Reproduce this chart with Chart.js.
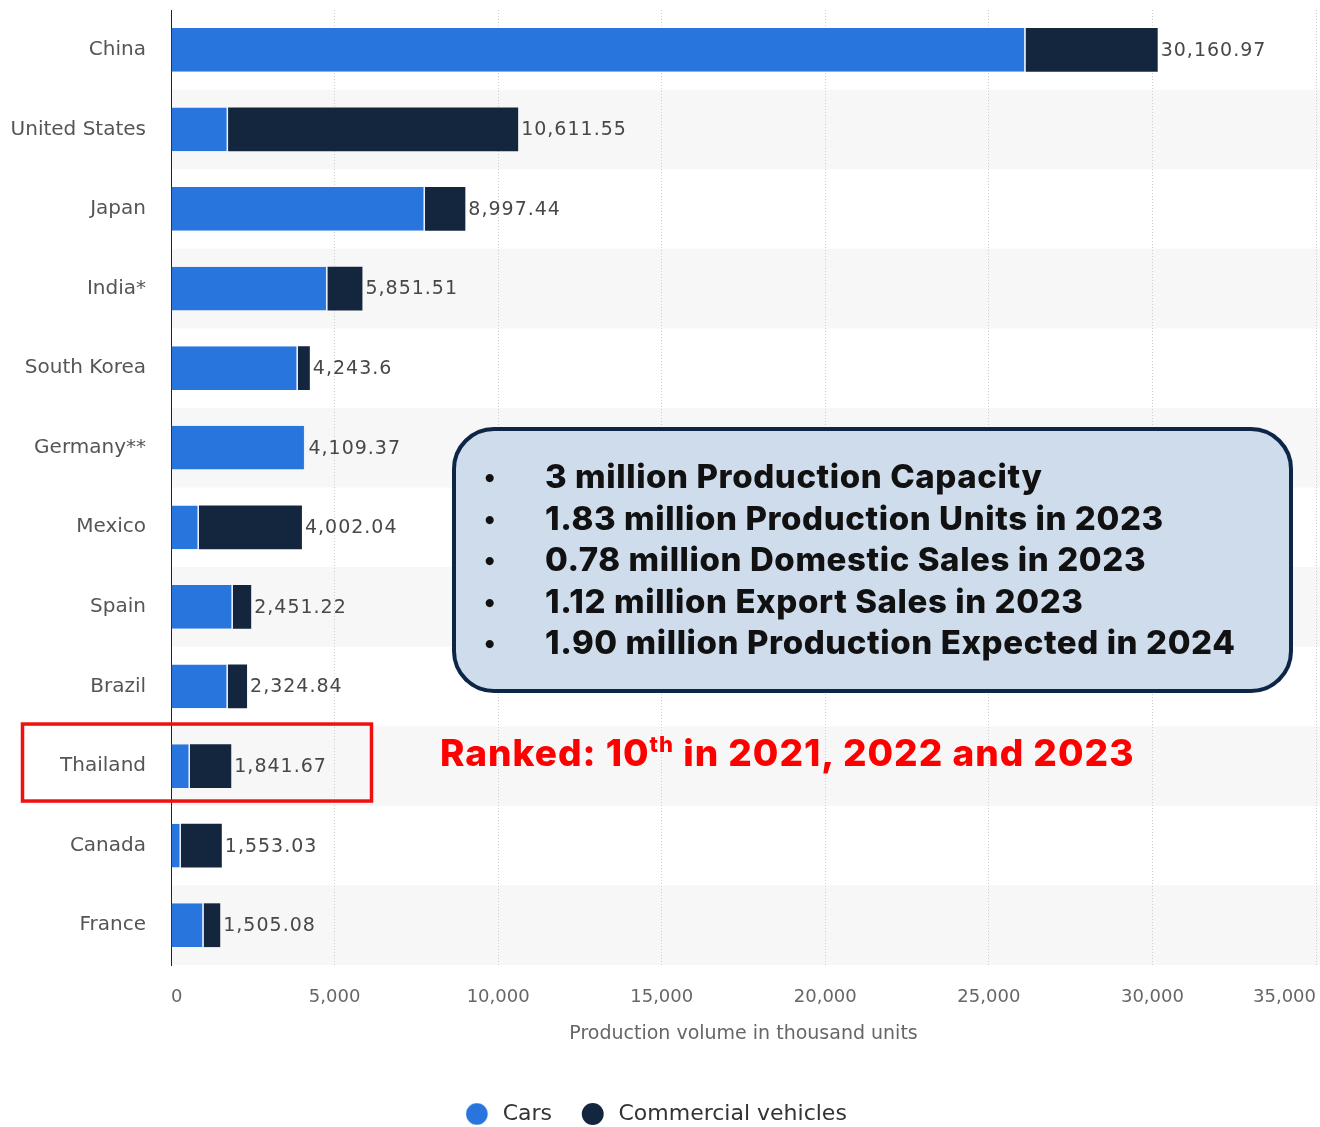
<!DOCTYPE html>
<html>
<head>
<meta charset="utf-8">
<script src="https://cdn.jsdelivr.net/npm/chart.js@4.4.1/dist/chart.umd.min.js"></script>
<style>
    html, body { margin: 0; padding: 0; background: #fff; overflow: hidden; }
    #wrap { position: relative; width: 1320px; height: 1127px; overflow: hidden; }
    #note {
        position: absolute; left: 452px; top: 427px; width: 841px; height: 266px;
        box-sizing: border-box; border: 4px solid #0d2547; border-radius: 42px;
        background: #cfdcec; padding-top: 25px;
        font-family: Inter, sans-serif; font-weight: 800; font-size: 33px; color: #111;
        letter-spacing: 0.6px;
    }
    #note div { position: relative; height: 41.5px; line-height: 41.5px; padding-left: 89px; white-space: nowrap; }
    #note div::before { content: "\2022"; position: absolute; left: 28px; font-size: 26px; }
    #rank {
        position: absolute; left: 440px; top: 730px; white-space: nowrap;
        font-family: Inter, sans-serif; font-weight: 800; font-size: 37px; color: #ff0000;
        line-height: 46px; letter-spacing: 1px;
    }
    #rank sup { font-size: 22px; line-height: 0; vertical-align: 14px; }
</style>
</head>
<body>
<div id="wrap">
    <canvas id="myChart" width="1320" height="1135"></canvas>
    <div id="note">
        <div>3 million Production Capacity</div>
        <div>1.83 million Production Units in 2023</div>
        <div>0.78 million Domestic Sales in 2023</div>
        <div>1.12 million Export Sales in 2023</div>
        <div>1.90 million Production Expected in 2024</div>
    </div>
    <div id="rank">Ranked: 10<sup>th</sup> in 2021, 2022 and 2023</div>
</div>
<script>
const paises = ['China', 'United States', 'Japan', 'India*', 'South Korea', 'Germany**', 'Mexico', 'Spain', 'Brazil', 'Thailand', 'Canada', 'France']
// miles de unidades
const autos = [26124, 1745, 7765, 4783, 3880, 4109.37, 855, 1892, 1740, 580, 306, 1000]
const comerciales = [4036.97, 8866.55, 1232.44, 1068.51, 363.6, 0, 3147.04, 559.22, 584.84, 1261.67, 1247.03, 505.08]
const totales = [30160.97, 10611.55, 8997.44, 5851.51, 4243.6, 4109.37, 4002.04, 2451.22, 2324.84, 1841.67, 1553.03, 1505.08]
const ticksX = [0, 5000, 10000, 15000, 20000, 25000, 30000, 35000]

const fuente = "'DejaVu Sans', sans-serif"

// franjas grises en filas alternas
const franjas = {
    id: 'franjas',
    beforeDraw(chart) {
        const { ctx, scales: { y }, chartArea } = chart
        const alto = y.getPixelForValue(1) - y.getPixelForValue(0)
        ctx.save()
        ctx.fillStyle = '#f7f7f7'
        paises.forEach((p, i) => {
            if (i % 2 === 1) {
                const yc = y.getPixelForValue(i)
                ctx.fillRect(chartArea.left, yc - alto / 2, chart.width - chartArea.left, alto)
            }
        })
        ctx.restore()
    }
}

// totales al final de cada barra + recuadro de Tailandia
const etiquetas = {
    id: 'etiquetas',
    afterDraw(chart) {
        const { ctx, scales: { x, y } } = chart
        ctx.save()
        ctx.font = '19px ' + fuente
        ctx.letterSpacing = '1px'
        ctx.fillStyle = '#484848'
        ctx.textBaseline = 'middle'
        totales.forEach((t, i) => {
            const txt = t.toLocaleString('en-US', { maximumFractionDigits: 2 })
            ctx.fillText(txt, x.getPixelForValue(t) + 3, y.getPixelForValue(i) + 1)
        })
        const yt = y.getPixelForValue(paises.indexOf('Thailand'))
        ctx.strokeStyle = '#f01010'
        ctx.lineWidth = 3.5
        ctx.strokeRect(22.5, yt - 42, 349, 77)
        ctx.restore()
    }
}

new Chart(document.getElementById('myChart'), {
    type: 'bar',
    data: {
        labels: paises,
        datasets: [{
            label: 'Cars',
            data: autos,
            backgroundColor: '#2876dd',
            borderColor: '#e8f0fb',
            borderWidth: { top: 0, bottom: 0, left: 0, right: 1.5 },
            borderSkipped: false,
            barPercentage: 0.55,
            categoryPercentage: 1
        }, {
            label: 'Commercial vehicles',
            data: comerciales,
            backgroundColor: '#14263d',
            borderWidth: 0,
            barPercentage: 0.55,
            categoryPercentage: 1
        }]
    },
    options: {
        indexAxis: 'y',
        responsive: false,
        animation: false,
        layout: { padding: { top: 10, right: 4, left: 0, bottom: 0 } },
        plugins: {
            tooltip: { enabled: false },
            legend: {
                position: 'bottom',
                labels: {
                    usePointStyle: true,
                    pointStyle: 'circle',
                    boxWidth: 15.5,
                    boxHeight: 15.5,
                    padding: 33,
                    color: '#333',
                    font: { family: fuente, size: 22 },
                    // un espacio extra entre el circulo y el texto
                    generateLabels: (chart) => Chart.defaults.plugins.legend.labels.generateLabels(chart)
                        .map((l) => ({ ...l, text: ' ' + l.text }))
                }
            }
        },
        scales: {
            x: {
                stacked: true,
                min: 0,
                max: 35000,
                afterBuildTicks: (s) => { s.ticks = ticksX.map((v) => ({ value: v })) },
                afterFit: (s) => {
                    s.height = 105
                    s.paddingLeft = 0
                    s.paddingRight = 0
                },
                grid: {
                    drawTicks: false,
                    color: (c) => c.tick && c.tick.value === 0 ? 'rgba(0,0,0,0)' : '#cdcdcd'
                },
                border: { display: false, dash: [1, 2] },
                ticks: {
                    padding: 22,
                    align: 'inner',
                    color: '#666',
                    font: { family: fuente, size: 18 },
                    callback: (v) => v.toLocaleString('en-US')
                },
                title: {
                    display: true,
                    text: 'Production volume in thousand units',
                    color: '#666',
                    font: { family: fuente, size: 19 },
                    padding: { top: 4, bottom: 25 }
                }
            },
            y: {
                stacked: true,
                afterFit: (s) => {
                    s.width = 171
                    s.paddingTop = 0
                    s.paddingBottom = 0
                },
                grid: { display: false, drawTicks: false },
                border: { display: true, color: '#222', width: 1 },
                ticks: {
                    padding: 25,
                    color: '#555',
                    font: { family: fuente, size: 20 }
                }
            }
        }
    },
    plugins: [franjas, etiquetas]
})
</script>
</body>
</html>
